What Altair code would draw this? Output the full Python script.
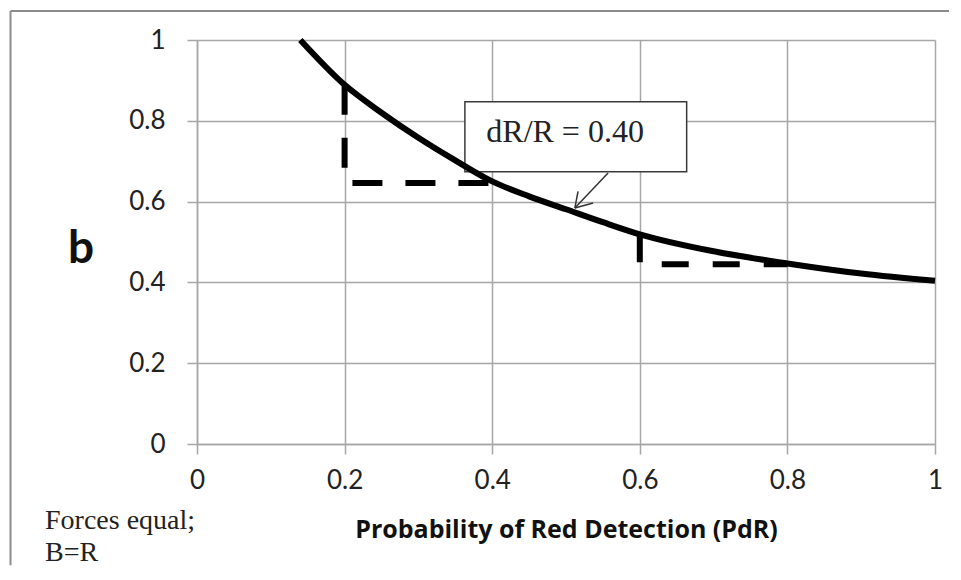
import altair as alt
import pandas as pd

# Curve
pdr = [0.14, 0.2, 0.25, 0.3, 0.35, 0.4, 0.45, 0.5, 0.55, 0.6, 0.7, 0.8, 0.9, 1.0]
b_vals = [1.0, 0.889, 0.82, 0.758, 0.702, 0.65, 0.613, 0.581, 0.549, 0.519, 0.477, 0.447, 0.422, 0.404]

# Dashed step guides
dash1_x = [0.2, 0.2, 0.4]
dash1_y = [0.889, 0.646, 0.646]
dash2_x = [0.6, 0.6, 0.8]
dash2_y = [0.517, 0.445, 0.445]

# Callout
box_x = [0.363, 0.6635]
box_y = [0.674, 0.847]
callout_text = "dR/R = 0.40"
callout_pos = [0.392, 0.748]
arrow_x = [0.557, 0.512]
arrow_y = [0.671, 0.584]
head_x = [0.5163, 0.5367]
head_y = [0.6255, 0.5965]

ticks = [0, 0.2, 0.4, 0.6, 0.8, 1]
x_title = "Probability of Red Detection (PdR)"
y_label = "b"
note_lines = ["Forces equal;", "B=R"]

curve_df = pd.DataFrame({"x": pdr, "y": b_vals})
d1 = pd.DataFrame({"x": dash1_x, "y": dash1_y, "o": [0, 1, 2]})
d2 = pd.DataFrame({"x": dash2_x, "y": dash2_y, "o": [0, 1, 2]})
box_df = pd.DataFrame({"x": [box_x[0]], "x2": [box_x[1]], "y": [box_y[0]], "y2": [box_y[1]]})
txt_df = pd.DataFrame({"x": [callout_pos[0]], "y": [callout_pos[1]], "t": [callout_text]})
arrow_df = pd.DataFrame({
    "x": [arrow_x[0], arrow_x[1], arrow_x[1]],
    "y": [arrow_y[0], arrow_y[1], arrow_y[1]],
    "x2": [arrow_x[1], head_x[0], head_x[1]],
    "y2": [arrow_y[1], head_y[0], head_y[1]],
})
# outer picture frame (left and top edges), in the chart's own units
frame_df = pd.DataFrame({
    "x": [-0.2527, -0.2527],
    "x2": [-0.2527, 1.02],
    "y": [-0.3, 1.072],
    "y2": [1.072, 1.072],
})
one = pd.DataFrame({"a": [0]})

xs = alt.Scale(domain=[0, 1], nice=False, zero=False)
ys = alt.Scale(domain=[0, 1], nice=False, zero=False)

X = alt.X("x:Q", scale=xs, axis=alt.Axis(
    values=ticks, format="~g", title=x_title, grid=True, tickSize=10, labelPadding=13,
    titlePadding=24, labelFontSize=26, titleFontSize=25, titleFontWeight="bold",
    labelFont="Lato", titleFont="Open Sans", labelFlush=False))
Y = alt.Y("y:Q", scale=ys, axis=alt.Axis(
    values=ticks, format="~g", title=None, grid=True, tickSize=10, labelPadding=22,
    labelFontSize=26, labelFont="Lato", labelFlush=False))

base_axes = alt.Chart(curve_df).mark_line(opacity=0).encode(x=X, y=Y)

frame = alt.Chart(frame_df).mark_rule(stroke="#8c8c8c", strokeWidth=2).encode(
    x=alt.X("x:Q", scale=xs), x2="x2", y=alt.Y("y:Q", scale=ys), y2="y2")

box = alt.Chart(box_df).mark_rect(fill="white", stroke="#3a3a3a", strokeWidth=1.5).encode(
    x=alt.X("x:Q", scale=xs), x2="x2", y=alt.Y("y:Q", scale=ys), y2="y2")

box_text = alt.Chart(txt_df).mark_text(
    align="left", baseline="alphabetic", font="Liberation Serif", fontSize=32, color="#222"
).encode(x=alt.X("x:Q", scale=xs), y=alt.Y("y:Q", scale=ys), text="t:N")

dash_a = alt.Chart(d1).mark_line(color="black", strokeWidth=6, strokeDash=[30, 23], strokeCap="butt").encode(
    x=alt.X("x:Q", scale=xs), y=alt.Y("y:Q", scale=ys), order="o:Q")
dash_b = alt.Chart(d2).mark_line(color="black", strokeWidth=6, strokeDash=[27, 24], strokeCap="butt").encode(
    x=alt.X("x:Q", scale=xs), y=alt.Y("y:Q", scale=ys), order="o:Q")

curve = alt.Chart(curve_df).mark_line(color="black", strokeWidth=6, interpolate="monotone").encode(
    x=alt.X("x:Q", scale=xs), y=alt.Y("y:Q", scale=ys))

arrow = alt.Chart(arrow_df).mark_rule(color="#333", strokeWidth=1.5).encode(
    x=alt.X("x:Q", scale=xs), y=alt.Y("y:Q", scale=ys), x2="x2", y2="y2")

b_text = alt.Chart(one).mark_text(
    text=y_label, font="Lato", fontWeight="bold", fontSize=46, align="center", baseline="alphabetic", color="#111"
).encode(x=alt.value(-116), y=alt.value(223))

note1 = alt.Chart(one).mark_text(
    text=note_lines[0], font="Liberation Serif", fontSize=28, align="left", baseline="alphabetic", color="#222"
).encode(x=alt.value(-152), y=alt.value(489))
note2 = alt.Chart(one).mark_text(
    text=note_lines[1], font="Liberation Serif", fontSize=28, align="left", baseline="alphabetic", color="#222"
).encode(x=alt.value(-152), y=alt.value(521))

chart = alt.layer(
    base_axes, frame, box, box_text, dash_a, dash_b, curve, arrow, b_text, note1, note2
).properties(
    width=738, height=404,
    autosize=alt.AutoSizeParams(type="none"),
    padding={"left": 189, "top": 32, "right": 14, "bottom": 126},
).configure_view(stroke=None).configure_axis(
    gridColor="#a6a6a6", gridWidth=1.5, domainColor="#a6a6a6", domainWidth=1.5,
    tickColor="#a6a6a6", tickWidth=1.5, labelColor="#222", titleColor="#111"
)

chart.save("out.html", embed_options={"renderer": "svg", "actions": False})
